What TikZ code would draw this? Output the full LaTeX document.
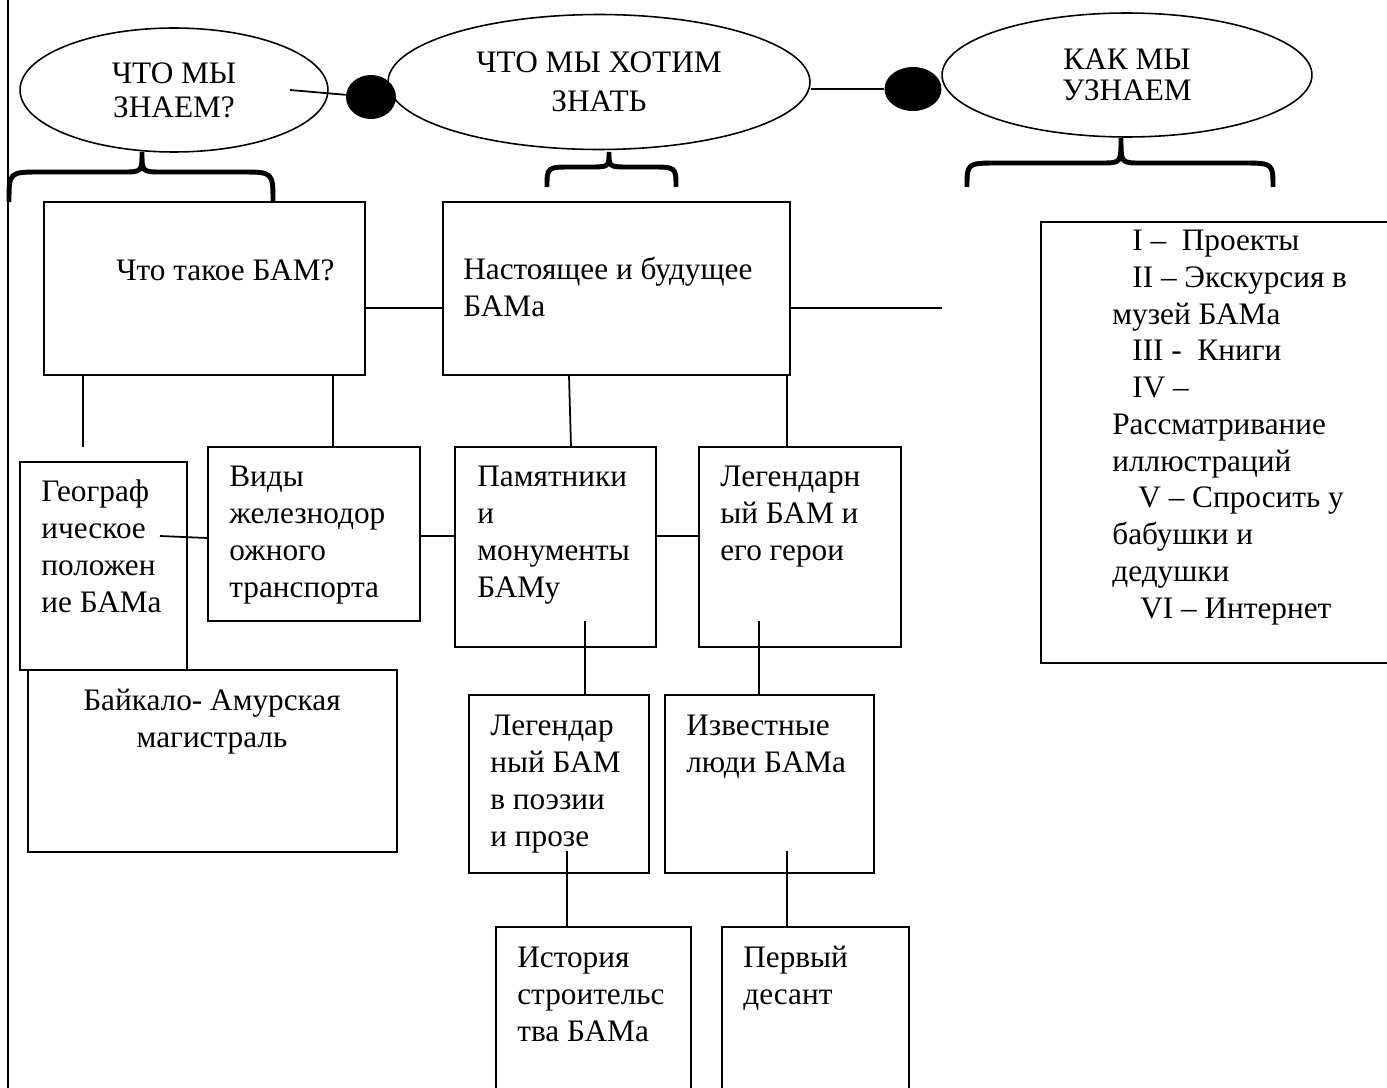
\documentclass[tikz,border=0pt]{standalone}
\usepackage{fontspec}
\setmainfont{Liberation Serif}
\usetikzlibrary{positioning,fit,shapes.geometric}

\begin{document}
\begin{tikzpicture}[x=0.02cm, y=-0.02cm,
  box/.style={draw, line width=1pt, inner sep=0pt},
  txt/.style={anchor=base west, align=left, inner sep=0pt, font=\fontsize{17.8}{20.9}\selectfont},
  oval/.style={draw, ellipse, line width=0.9pt, inner sep=0pt, align=center},
  blob/.style={ellipse, fill=black, inner sep=0pt},
  link/.style={line width=1pt},
  curly/.style={line width=2.8pt}]

\useasboundingbox (0,0) rectangle (1387,1088);
\draw[link] (8,0) -- (8,1088);

% the three questions
\node[oval, minimum width=6.16cm, minimum height=2.48cm, font=\fontsize{17.8}{19.4}\selectfont] (know) at (174,90) {ЧТО МЫ\\ЗНАЕМ?};
\node[oval, minimum width=8.44cm, minimum height=2.7cm, font=\fontsize{17.8}{22.2}\selectfont] (want) at (599,82) {ЧТО МЫ ХОТИМ\\ЗНАТЬ};
\node[oval, minimum width=7.4cm, minimum height=2.48cm, font=\fontsize{17.8}{17.7}\selectfont] (learn) at (1127,75) {КАК МЫ\\УЗНАЕМ};
\node[blob, minimum width=1cm, minimum height=0.88cm] (dotA) at (371,97) {};
\node[blob, minimum width=1.14cm, minimum height=0.88cm] (dotB) at (913,89) {};
\coordinate (knowIn) at (290,90);
\draw[link] (knowIn) -- (dotA);
\draw[link] (want.east |- dotB) -- (dotB);

% braces under the questions
\foreach \lx/\mx/\rx/\ty/\hy/\ey/\rr in {9/142/273/152/172/202/32, 547/609/676/152/167/187/26, 967/1121/1273/138/163/187/32}
  \draw[curly] (\lx,\ey) .. controls (\lx,\hy) .. (\lx+\rr,\hy) -- (\mx-20,\hy) .. controls (\mx,\hy) .. (\mx,\ty)
    .. controls (\mx,\hy) .. (\mx+20,\hy) -- (\rx-\rr,\hy) .. controls (\rx,\hy) .. (\rx,\ey);

% boxes
\node[box, fit={(44,202) (365,375)}] (what) {};
\node[box, fit={(443,202) (790,375)}] (future) {};
\node[box, fit={(1041,222) (1395,663)}] (ways) {};
\node[box, fit={(20,462) (187,670)}] (geo) {};
\node[box, fit={(28,670) (397,852)}] (bam) {};
\node[box, fit={(208,447) (420,621)}] (kinds) {};
\node[box, fit={(455,447) (656,647)}] (monum) {};
\node[box, fit={(699,447) (901,647)}] (heroes) {};
\node[box, fit={(469,695) (649,873)}] (poetry) {};
\node[box, fit={(665,695) (874,873)}] (people) {};
\node[box, fit={(496,927) (691,1095)}] (history) {};
\node[box, fit={(722,927) (909,1095)}] (landing) {};

% texts in the boxes (placed at the baseline of the last line)
\node[txt] (whatT) at (116,280) {Что такое БАМ?};
\node[txt] (futureT) at (463,316) {Настоящее и будущее\\БАМа};
\node[txt] (geoT) at (41,612) {Географ\\ическое\\положен\\ие БАМа};
\node[txt] (kindsT) at (229,597) {Виды\\железнодор\\ожного\\транспорта};
\node[txt] (monumT) at (477,597) {Памятники\\и\\монументы\\БАМу};
\node[txt] (heroesT) at (720,560) {Легендарн\\ый БАМ и\\его герои};
\node[txt, anchor=base, align=center] (bamT) at (212,747) {Байкало- Амурская\\магистраль};
\node[txt] (poetryT) at (490,846) {Легендар\\ный БАМ\\в поэзии\\и прозе};
\node[txt] (peopleT) at (686,772) {Известные\\люди БАМа};
\node[txt] (historyT) at (517,1041) {История\\строительс\\тва БАМа};
\node[txt] (landingT) at (743,1004) {Первый\\десант};
\node[txt] (waysT) at (1112,618) {\hspace*{0.4cm}I –\ \ Проекты\\ \hspace*{0.4cm}II – Экскурсия в\\музей БАМа\\ \hspace*{0.4cm}III -\ \ Книги\\ \hspace*{0.4cm}IV –\\Рассматривание\\иллюстраций\\ \hspace*{0.52cm}V – Спросить у\\бабушки и\\дедушки\\ \hspace*{0.56cm}VI – Интернет};

% connectors
\coordinate (whatEnd) at (83,447);
\coordinate (futureEnd) at (942,308);
\coordinate (geoIn) at (160,536);
\coordinate (monumIn) at (585,621);
\coordinate (heroesIn) at (759,621);
\coordinate (poetryIn) at (567,851);
\coordinate (peopleIn) at (787,851);
\draw[link] (what.east |- 0,308) -- (future.west |- 0,308);
\draw[link] (future.east |- 0,308) -- (futureEnd);
\draw[link] (what.south -| whatEnd) -- (whatEnd);
\draw[link] (what.south -| 333,0) -- (kinds.north -| 333,0);
\draw[link] (future.south -| 569,0) -- (monum.north -| 571,0);
\draw[link] (future.south -| 787,0) -- (heroes.north -| 787,0);
\draw[link] (geoIn) -- (kinds.west |- 0,538);
\draw[link] (kinds.east |- 0,536) -- (monum.west |- 0,536);
\draw[link] (monum.east |- 0,536) -- (heroes.west |- 0,536);
\draw[link] (monumIn) -- (poetry.north -| monumIn);
\draw[link] (heroesIn) -- (people.north -| heroesIn);
\draw[link] (poetryIn) -- (history.north -| poetryIn);
\draw[link] (peopleIn) -- (landing.north -| peopleIn);
\end{tikzpicture}
\end{document}
